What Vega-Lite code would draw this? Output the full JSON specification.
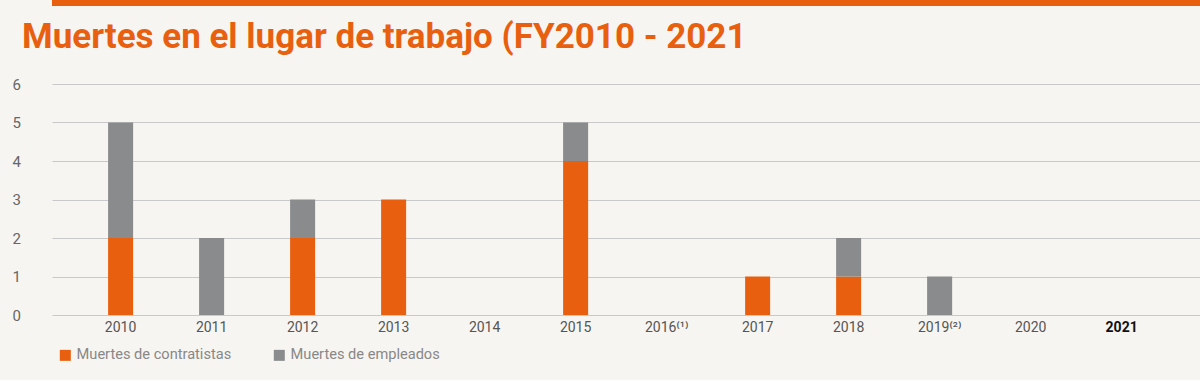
{
  "$schema": "https://vega.github.io/schema/vega-lite/v6.json",
  "padding": 0,
  "spacing": 14,
  "background": "#f7f5f1",
  "config": {"view": {"stroke": null}, "font": "Roboto"},
  "resolve": {"legend": {"color": "independent"}},
  "vconcat": [
    {
      "width": 1200,
      "height": 6,
      "view": {"fill": "#e8600f", "stroke": null},
      "data": {"values": [{"a": 1}]},
      "mark": {"type": "rect", "opacity": 0},
      "encoding": {}
    },
    {
      "width": 1148,
      "height": 231,
      "title": {
        "text": "Muertes en el lugar de trabajo (FY2010 - 2021",
        "fontSize": 35,
        "fontWeight": "bold",
        "color": "#e8600f",
        "anchor": "start",
        "frame": "group",
        "baseline": "alphabetic",
        "offset": -10,
        "dx": -30
      },
      "data": {
        "values": [
          {"year": "2010", "serie": "Muertes de contratistas", "o": 1, "n": 2},
          {"year": "2010", "serie": "Muertes de empleados", "o": 2, "n": 3},
          {"year": "2011", "serie": "Muertes de contratistas", "o": 1, "n": 0},
          {"year": "2011", "serie": "Muertes de empleados", "o": 2, "n": 2},
          {"year": "2012", "serie": "Muertes de contratistas", "o": 1, "n": 2},
          {"year": "2012", "serie": "Muertes de empleados", "o": 2, "n": 1},
          {"year": "2013", "serie": "Muertes de contratistas", "o": 1, "n": 3},
          {"year": "2013", "serie": "Muertes de empleados", "o": 2, "n": 0},
          {"year": "2014", "serie": "Muertes de contratistas", "o": 1, "n": 0},
          {"year": "2014", "serie": "Muertes de empleados", "o": 2, "n": 0},
          {"year": "2015", "serie": "Muertes de contratistas", "o": 1, "n": 4},
          {"year": "2015", "serie": "Muertes de empleados", "o": 2, "n": 1},
          {"year": "2016⁽¹⁾", "serie": "Muertes de contratistas", "o": 1, "n": 0},
          {"year": "2016⁽¹⁾", "serie": "Muertes de empleados", "o": 2, "n": 0},
          {"year": "2017", "serie": "Muertes de contratistas", "o": 1, "n": 1},
          {"year": "2017", "serie": "Muertes de empleados", "o": 2, "n": 0},
          {"year": "2018", "serie": "Muertes de contratistas", "o": 1, "n": 1},
          {"year": "2018", "serie": "Muertes de empleados", "o": 2, "n": 1},
          {"year": "2019⁽²⁾", "serie": "Muertes de contratistas", "o": 1, "n": 0},
          {"year": "2019⁽²⁾", "serie": "Muertes de empleados", "o": 2, "n": 1},
          {"year": "2020", "serie": "Muertes de contratistas", "o": 1, "n": 0},
          {"year": "2020", "serie": "Muertes de empleados", "o": 2, "n": 0},
          {"year": "2021", "serie": "Muertes de contratistas", "o": 1, "n": 0},
          {"year": "2021", "serie": "Muertes de empleados", "o": 2, "n": 0}
        ]
      },
      "mark": {"type": "bar"},
      "encoding": {
        "x": {
          "field": "year",
          "type": "nominal",
          "sort": null,
          "scale": {"paddingInner": 0.725, "paddingOuter": 0.67, "align": 0.46},
          "axis": {
            "title": null,
            "domain": false,
            "ticks": false,
            "labelAngle": 0,
            "labelPadding": 5,
            "labelFontSize": 14,
            "labelColor": {"condition": {"test": "datum.value == '2021'", "value": "#111111"}, "value": "#555555"},
            "labelFontWeight": {"condition": {"test": "datum.value == '2021'", "value": "bold"}, "value": "normal"}
          }
        },
        "y": {
          "field": "n",
          "type": "quantitative",
          "stack": "zero",
          "scale": {"domain": [0, 6], "nice": false},
          "axis": {
            "title": " ",
            "titleX": -52,
            "titleY": 0,
            "titleAngle": 0,
            "titleAlign": "left",
            "values": [0, 1, 2, 3, 4, 5, 6],
            "domain": false,
            "ticks": false,
            "tickSize": 0,
            "labelAlign": "left",
            "labelPadding": 40,
            "labelFontSize": 15,
            "labelColor": "#666666",
            "gridColor": "#c9c9c9",
            "gridWidth": 1
          }
        },
        "color": {
          "field": "serie",
          "type": "nominal",
          "scale": {"domain": ["Muertes de contratistas", "Muertes de empleados"], "range": ["#e8600f", "#898b8c"]},
          "legend": {
            "title": null,
            "orient": "none",
            "direction": "horizontal",
            "legendX": -12,
            "legendY": 246,
            "padding": 18,
            "symbolType": "square",
            "symbolSize": 121,
            "symbolStrokeWidth": 0,
            "symbolOpacity": 1,
            "labelFontSize": 14.6,
            "labelColor": "#888888",
            "labelOffset": 4,
            "columnPadding": 40
          }
        },
        "order": {"field": "o", "type": "quantitative"}
      }
    }
  ]
}
